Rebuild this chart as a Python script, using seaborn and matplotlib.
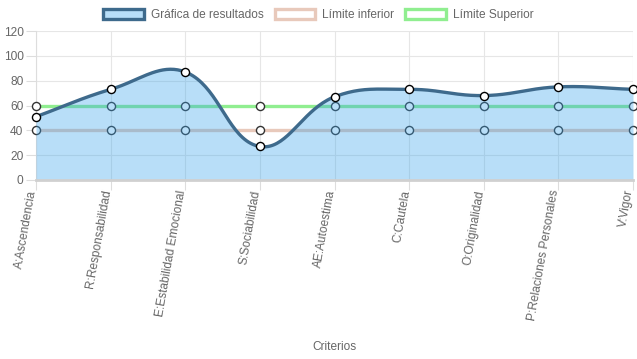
import numpy as np
import matplotlib
matplotlib.use("Agg")
import matplotlib.pyplot as plt
import seaborn as sns
import pandas as pd
from matplotlib.patches import Patch

criterios = ["A:Ascendencia", "R:Responsabilidad", "E:Estabilidad Emocional",
             "S:Sociabilidad", "AE:Autoestima", "C:Cautela", "O:Originalidad",
             "P:Relaciones Personales", "V:Vigor"]
resultados = [51, 73, 87, 27, 67, 73, 68, 75, 73]
limite_inferior = [40, 40, 40, 40, 40, 40, 40, 40, 40]
limite_superior = [60, 60, 60, 60, 60, 60, 60, 60, 60]
y_ticks = [0, 20, 40, 60, 80, 100, 120]

azul_fill = (54/255, 162/255, 235/255, 0.35)
azul_linea = "#3e6a8c"
beige = "#e8c9bb"
verde = "#90ee90"
gris_txt = "#666666"

sns.set_theme(style="white")
plt.rcParams["font.family"] = ["Liberation Sans", "DejaVu Sans"]

df = pd.DataFrame({"x": np.arange(len(criterios)), "res": resultados,
                   "inf": limite_inferior, "sup": limite_superior})

fig = plt.figure(figsize=(6.37, 3.59), dpi=100)
ax = fig.add_axes([36/637, 1 - 180/359, 597/637, 149/359])


def spline_chartjs(xv, yv, sx, sy, t=0.4):
    # puntos de control como Chart.js (tension 0.4), en pixeles
    X = np.asarray(xv, float) * sx
    Y = np.asarray(yv, float) * sy
    n = len(X)
    cp_prev = np.zeros((n, 2)); cp_next = np.zeros((n, 2))
    for i in range(n):
        p = np.array([X[max(i-1, 0)], Y[max(i-1, 0)]])
        c = np.array([X[i], Y[i]])
        q = np.array([X[min(i+1, n-1)], Y[min(i+1, n-1)]])
        d01 = np.hypot(*(c - p)); d12 = np.hypot(*(q - c))
        tot = d01 + d12
        s01 = d01 / tot if tot else 0; s12 = d12 / tot if tot else 0
        cp_prev[i] = c - t * s01 * (q - p)
        cp_next[i] = c + t * s12 * (q - p)
    xs, ys = [], []
    tt = np.linspace(0, 1, 40)
    for i in range(n - 1):
        P0 = np.array([X[i], Y[i]]); P1 = cp_next[i]; P2 = cp_prev[i+1]; P3 = np.array([X[i+1], Y[i+1]])
        pts = ((1-tt)**3)[:, None]*P0 + (3*(1-tt)**2*tt)[:, None]*P1 + (3*(1-tt)*tt**2)[:, None]*P2 + (tt**3)[:, None]*P3
        xs.extend(pts[:, 0]); ys.extend(pts[:, 1])
    return np.array(xs) / sx, np.array(ys) / sy


# limites (debajo del relleno)
sns.lineplot(data=df, x="x", y="sup", ax=ax, color=verde, lw=2.4, zorder=2)
sns.lineplot(data=df, x="x", y="inf", ax=ax, color=beige, lw=2.4, zorder=2)
for col in ["sup", "inf"]:
    sns.scatterplot(data=df, x="x", y=col, ax=ax, s=34, color="white",
                    edgecolor="#333333", linewidth=1.0, zorder=3, clip_on=False)

# curva de resultados con relleno encima
cx, cy = spline_chartjs(df["x"], df["res"], 597/8, 149/120)
ax.fill_between(cx, cy, 0, color=azul_fill, lw=0, zorder=4)
ax.plot(cx, cy, color=azul_linea, lw=2.4, zorder=5, solid_capstyle="round")
sns.scatterplot(data=df, x="x", y="res", ax=ax, s=34, color="white",
                edgecolor="black", linewidth=1.0, zorder=6, clip_on=False)

ax.set_xlim(0, len(criterios) - 1)
ax.set_ylim(0, 120)
ax.set_yticks(y_ticks)
ax.set_xticks(df["x"])
ax.set_xticklabels([])
# etiquetas giradas como en Chart.js
for xi, lab in zip(df["x"], criterios):
    ax.annotate(lab, xy=(xi, 0), xycoords=("data", "axes fraction"),
                xytext=(-3, -10), textcoords="offset pixels", rotation=80,
                ha="right", va="center", rotation_mode="anchor",
                fontsize=8.6, color=gris_txt, annotation_clip=False)
ax.tick_params(axis="x", length=7, width=0.8, color="#dddddd",
               bottom=True)
ax.tick_params(axis="y", length=7, width=0.8, color="#dddddd", pad=2,
               labelsize=8.6, labelcolor=gris_txt, left=True)
ax.grid(True, color="#e6e6e6", lw=0.8)
ax.set_axisbelow(True)
for s in ["top", "right"]:
    ax.spines[s].set_visible(False)
ax.spines["left"].set_color("#dddddd")
ax.spines["left"].set_linewidth(0.8)
ax.spines["bottom"].set_color("#d0d0d0")
ax.spines["bottom"].set_linewidth(2)
ax.spines["bottom"].set_zorder(7)
ax.set_ylabel("")
ax.set_xlabel("")
fig.text(334/637, 1 - 347/359, "Criterios", ha="center", va="center",
         fontsize=8.6, color=gris_txt)

handles = [Patch(facecolor=azul_fill, edgecolor=azul_linea, lw=2.4),
           Patch(facecolor="white", edgecolor=beige, lw=2.4),
           Patch(facecolor="white", edgecolor=verde, lw=2.4)]
fig.legend(handles, ["Gráfica de resultados", "Límite inferior", "Límite Superior"],
           loc="center", bbox_to_anchor=(0.5, 1 - 15/359), ncol=3, frameon=False,
           fontsize=8.6, labelcolor=gris_txt, handlelength=3.4, handleheight=0.95,
           handletextpad=0.6, columnspacing=0.9)

fig.savefig("out.png", dpi=100)
